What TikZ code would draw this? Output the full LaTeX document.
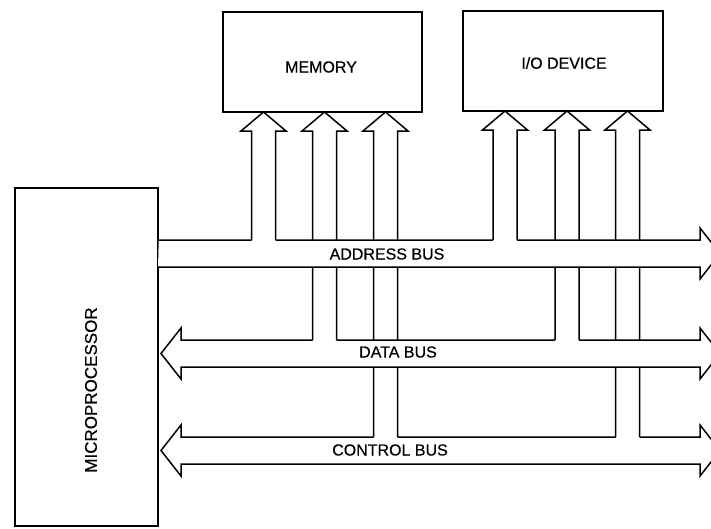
\documentclass[tikz,border=0pt]{standalone}
\usepackage{fontspec}
\setmainfont{Liberation Sans}[FakeBold=0.4]
\begin{document}
\begin{tikzpicture}[x=1pt,y=-1pt,line width=1.5pt,line join=miter,
  box/.style={draw,fill=white,rectangle,inner sep=0pt},
  lbl/.style={inner sep=0pt,font=\fontsize{16}{19}\selectfont}]
\useasboundingbox (0,0) rectangle (711,528);
\clip (0,0) rectangle (711,528);
% boxes
\node[box,minimum width=199pt,minimum height=100pt] (mem) at (322.5,62) {};
\node[box,minimum width=200pt,minimum height=100pt] (io) at (563,61) {};
\node[box,minimum width=143pt,minimum height=338pt] (mp) at (86.5,357) {};
\node[lbl] (memt) at (321,67) {MEMORY};
\node[lbl] (iot) at (564,63) {I/O DEVICE};
\node[lbl,rotate=90,font=\fontsize{17}{20}\selectfont] (mpt) at (91,390) {MICROPROCESSOR};
% vertical block arrow: #1 = x centre, #2 = top of the bus it leaves, #3 = y of tip
\newcommand\blockup[3]{%
  \fill[white] (#1-12,#2+1.5) -- (#1-12,#3+19) -- (#1-22.5,#3+19) -- (#1,#3)
     -- (#1+22.5,#3+19) -- (#1+12,#3+19) -- (#1+12,#2+1.5) -- cycle;
  \draw (#1-12,#2) -- (#1-12,#3+19) -- (#1-22.5,#3+19) -- (#1,#3)
     -- (#1+22.5,#3+19) -- (#1+12,#3+19) -- (#1+12,#2);}
% control bus
\coordinate (cl) at (161,450.5);
\coordinate (cr) at (720,450.5);
\draw[fill=white] (cl) -- (181,425) -- (181,437) -- (700,437) -- (700,425) -- (cr) -- (700,476) -- (700,464) -- (181,464) -- (181,476) -- cycle;
\blockup{385.5}{437}{112}
\blockup{627.5}{437}{111}
% data bus
\coordinate (dl) at (161,353.5);
\coordinate (dr) at (720,353.5);
\draw[fill=white] (dl) -- (181,328) -- (181,340) -- (700,340) -- (700,328) -- (dr) -- (700,379) -- (700,367) -- (181,367) -- (181,379) -- cycle;
\blockup{324.5}{340}{112}
\blockup{567}{340}{111}
% address bus
\coordinate (al) at (mp.east |- 0,240);
\coordinate (ar) at (720,253.5);
\fill[white] (al) -- (700,240) -- (700,228) -- (ar) -- (700,279) -- (700,267) -- (158,267) -- cycle;
\draw (al) -- (700,240) -- (700,228) -- (ar) -- (700,279) -- (700,267) -- (158,267);
\blockup{263.5}{240}{112}
\blockup{505}{240}{111}
% bus labels
\node[lbl] (ab) at (387,254) {ADDRESS BUS};
\node[lbl] (db) at (398,352) {DATA BUS};
\node[lbl] (cb) at (390,450) {CONTROL BUS};
\end{tikzpicture}
\end{document}
